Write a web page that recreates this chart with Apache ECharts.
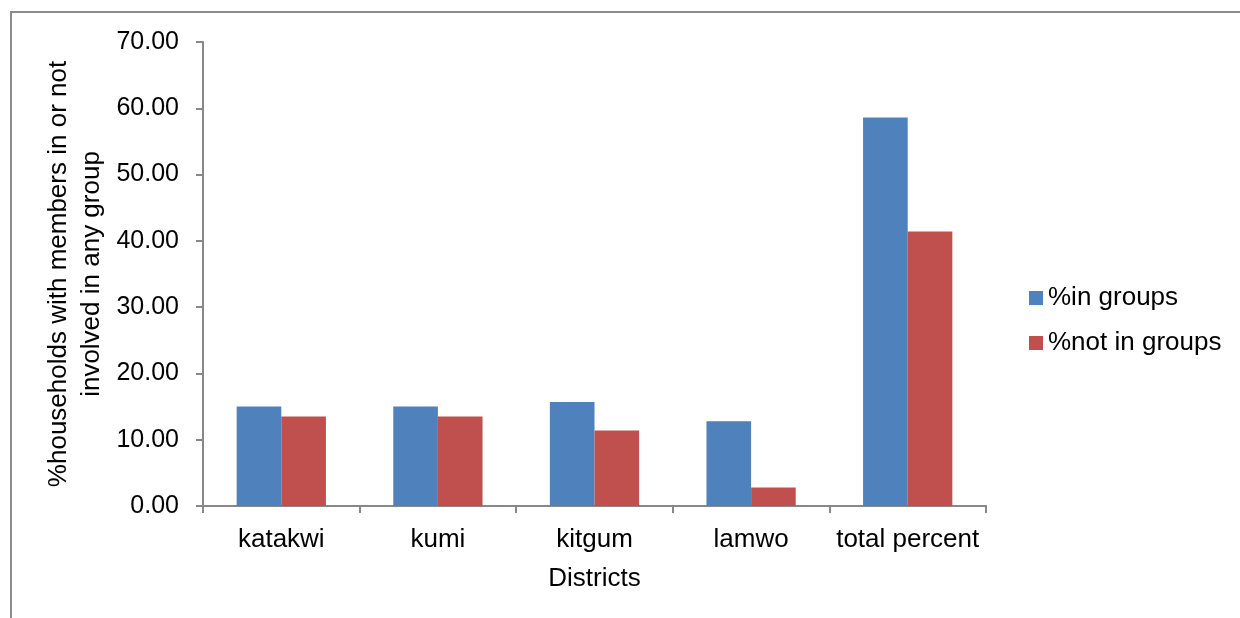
<!DOCTYPE html>
<html>
<head>
<meta charset="utf-8">
<script src="https://cdn.jsdelivr.net/npm/echarts@6/dist/echarts.min.js"></script>
<style>
html,body{margin:0;padding:0;background:#fff;}
#chart{width:1240px;height:618px;}
</style>
</head>
<body>
<div id="chart"></div>
<script>
var categories = ['katakwi', 'kumi', 'kitgum', 'lamwo', 'total percent'];
var inGroups = [15.0, 15.0, 15.7, 12.8, 58.6];
var notInGroups = [13.5, 13.5, 11.4, 2.8, 41.4];
var seriesNames = ['%in groups', '%not in groups'];
var yTicks = { min: 0, max: 70, interval: 10 };

var FONT = 'Liberation Sans, Arial, sans-serif';
var chart = echarts.init(document.getElementById('chart'));
chart.setOption({
  backgroundColor: '#ffffff',
  animation: false,
  textStyle: { fontFamily: FONT },
  graphic: [{
    type: 'rect',
    shape: { x: 11, y: 12, width: 1300, height: 700 },
    style: { fill: 'none', stroke: '#8c8c8c', lineWidth: 2 },
    silent: true
  }],
  grid: { left: 203, right: 254, top: 42, bottom: 112 },
  legend: {
    orient: 'vertical',
    left: 1024,
    top: 280,
    itemWidth: 14,
    itemHeight: 14,
    itemGap: 19,
    icon: 'rect',
    textStyle: { fontSize: 26, color: '#000', fontFamily: FONT, padding: [0, 0, 0, 0] },
    data: seriesNames
  },
  xAxis: {
    type: 'category',
    data: categories,
    name: 'Districts',
    nameLocation: 'middle',
    nameGap: 60,
    nameTextStyle: { fontSize: 26, color: '#000', fontFamily: FONT },
    axisLine: { lineStyle: { color: '#888', width: 2 } },
    axisTick: { show: true, length: 7, lineStyle: { color: '#888', width: 2 } },
    axisLabel: { fontSize: 26, color: '#000', margin: 21, interval: 0, fontFamily: FONT }
  },
  yAxis: {
    type: 'value',
    min: yTicks.min,
    max: yTicks.max,
    interval: yTicks.interval,
    name: '%households with members in or not\ninvolved in any group',
    nameLocation: 'middle',
    nameGap: 128,
    nameMoveOverlap: false,
    nameRotate: 90,
    nameTextStyle: { fontSize: 26, color: '#000', fontFamily: FONT, lineHeight: 33, align: 'center', verticalAlign: 'middle' },
    axisLine: { show: true, lineStyle: { color: '#888', width: 2 } },
    axisTick: { show: true, length: 7, lineStyle: { color: '#888', width: 2 } },
    splitLine: { show: false },
    axisLabel: {
      fontSize: 25, color: '#000', margin: 24, fontFamily: FONT,
      formatter: function (v) { return v.toFixed(2); }
    }
  },
  series: [
    {
      name: seriesNames[0], type: 'bar', data: inGroups,
      barGap: '0%', barCategoryGap: '43%',
      itemStyle: { color: '#4F81BD' }
    },
    {
      name: seriesNames[1], type: 'bar', data: notInGroups,
      barGap: '0%', barCategoryGap: '43%',
      itemStyle: { color: '#C0504D' }
    }
  ]
});
</script>
</body>
</html>
